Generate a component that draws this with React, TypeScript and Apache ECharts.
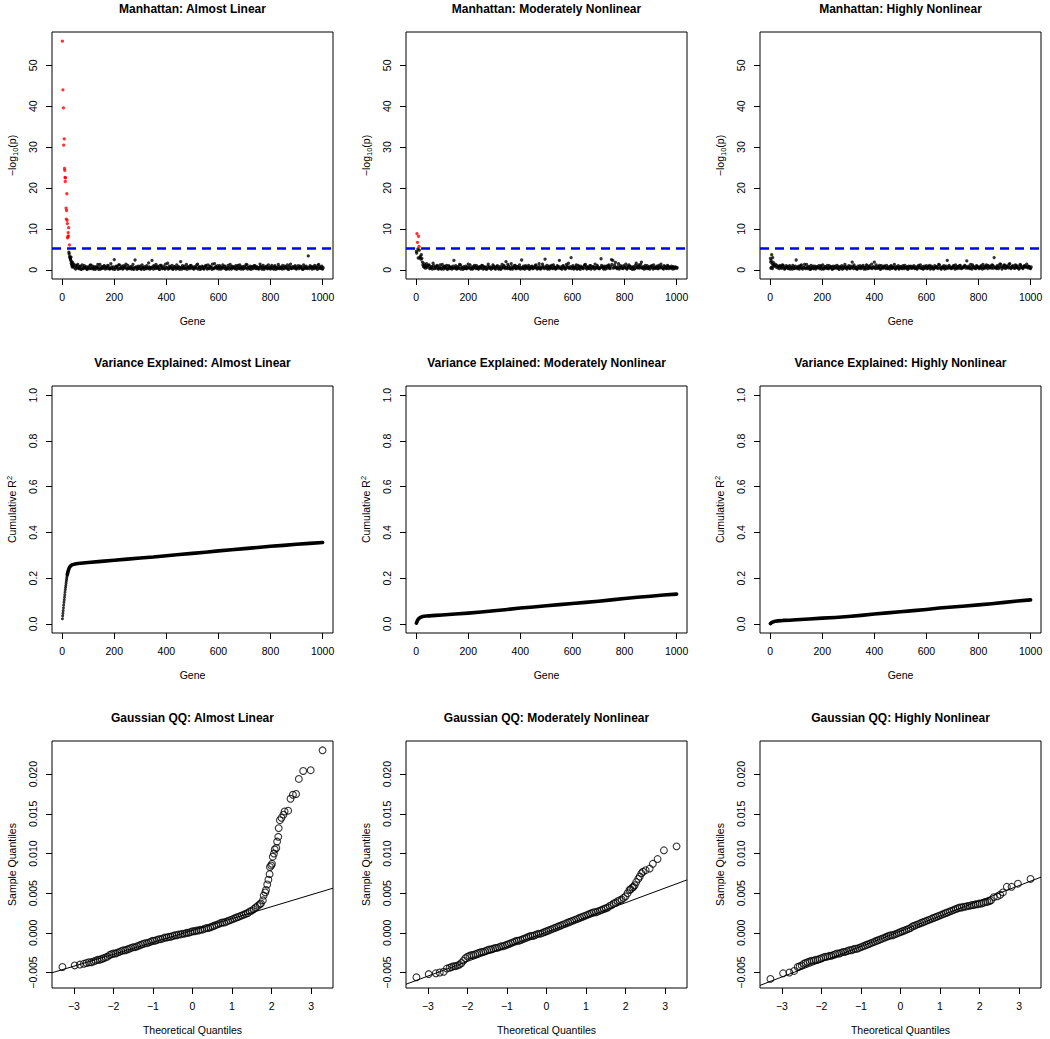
import React, { useEffect, useRef } from "react";
import * as echarts from "echarts";

const FONT = '"Liberation Sans", Arial, Helvetica, sans-serif';

const SCENARIOS = ["Almost Linear", "Moderately Nonlinear", "Highly Nonlinear"];
const GENE_TICKS = [0, 200, 400, 600, 800, 1000];
const LOGP_TICKS = [0, 10, 20, 30, 40, 50];
const R2_TICKS = [0, 0.2, 0.4, 0.6, 0.8, 1];
const QQ_X_TICKS = [-3, -2, -1, 0, 1, 2, 3];
const QQ_Y_TICKS = [-0.005, 0, 0.005, 0.01, 0.015, 0.02];

const GENE_RANGE = [-38.96, 1039.96];
const LOGP_RANGE = [-2.24, 58.14];
const R2_RANGE = [-0.04, 1.04];
const QQ_X_RANGE = [-3.554, 3.554];
const QQ_Y_RANGE = [-0.00695, 0.02418];

const THRESHOLD = 5.3;

// ---------- Manhattan: [gene, -log10(p)] for the first genes ----------
const man1Early = [
  [1, 55.9], [3, 44.0], [5, 39.6], [6, 30.5], [8, 32.0], [9, 24.8], [10, 24.3], [11, 22.6],
  [12, 21.6], [13, 22.5], [15, 15.1], [16, 12.4], [17, 14.5], [18, 18.6], [19, 12.1], [20, 11.3],
  [21, 7.8], [22, 8.1], [23, 9.1], [24, 8.3], [25, 10.3], [28, 6.1],
  [26, 4.3], [27, 3.9], [29, 3.3], [30, 3.0], [31, 2.9], [32, 2.6], [33, 2.3], [34, 3.1],
  [35, 1.6], [36, 2.0], [37, 1.3], [38, 1.0], [39, 0.7],
];
const man2Early = [
  [3, 8.85], [5, 6.7], [9, 8.2], [11, 5.7],
  [1, 4.5], [2, 4.1], [7, 5.1], [8, 2.9], [12, 4.8], [14, 3.0], [16, 3.3], [18, 2.6], [20, 3.7],
  [22, 2.8], [24, 1.9], [26, 1.2], [28, 0.8], [30, 1.5], [32, 0.6], [34, 1.0], [36, 0.4], [38, 0.9],
];
const man3Early = [
  [1, 2.8], [2, 1.9], [3, 0.4], [4, 2.3], [5, 0.6], [6, 3.7], [8, 1.5], [9, 0.3], [10, 3.0],
  [11, 0.9], [12, 1.8], [14, 1.2], [17, 0.9], [20, 1.4], [23, 0.7], [26, 1.1], [29, 0.5],
  [32, 0.8], [35, 0.3], [37, 1.0],
];

// ---------- Manhattan: null genes, two interleaved runs (40, 45, ... and 42, 47, ...) ----------
const NOISE_A_FIRST_GENE = 40;
const NOISE_B_FIRST_GENE = 42;
const NOISE_GENE_STEP = 5;
const man1NoiseA = [
  1.8, 1.4, 1.1, 0.6, 1.3, 0.3, 0.9, 0.2, 0.5, 1.0,
  0.4, 0.1, 0.7, 0.3, 1.2, 0.5, 0.2, 0.8, 0.4, 0.6,
  0.1, 1.3, 0.3, 0.5, 0.9, 0.2, 0.6, 1.1, 0.4, 0.3,
  0.7, 0.2, 2.5, 0.5, 0.8, 0.1, 1.2, 0.4, 0.9, 0.3,
  0.6, 1.4, 0.2, 0.5, 0.3, 0.8, 0.4, 0.1, 2.4, 0.7,
  0.3, 0.5, 0.9, 0.2, 0.6, 0.1, 0.4, 1.0, 0.3, 0.7,
  0.5, 2.3, 0.2, 0.8, 1.3, 0.4, 0.6, 0.1, 1.1, 0.3,
  0.9, 0.2, 0.5, 1.6, 0.3, 0.7, 0.4, 0.1, 0.8, 0.5,
  1.2, 0.3, 0.6, 2.0, 0.2, 0.5, 0.9, 0.4, 0.1, 0.7,
  0.3, 1.1, 0.5, 0.2, 0.8, 0.4, 1.4, 0.6, 0.1, 0.3,
  0.7, 0.2, 0.9, 0.5, 1.2, 0.3, 0.6, 0.1, 0.4, 1.5,
  0.8, 0.3, 0.5, 1.0, 0.2, 0.6, 0.4, 0.9, 0.1, 0.3,
  0.6, 1.3, 0.2, 0.5, 0.8, 0.4, 0.1, 1.1, 0.3, 0.7,
  0.5, 0.2, 0.9, 0.4, 1.2, 0.6, 0.3, 0.1, 0.8, 0.5,
  1.0, 0.3, 0.6, 0.2, 1.4, 0.4, 0.7, 0.1, 0.5, 0.9,
  0.3, 0.6, 0.2, 1.1, 0.4, 0.8, 0.1, 0.5, 1.3, 0.3,
  0.7, 0.2, 0.5, 0.9, 0.4, 1.2, 0.1, 0.6, 0.3, 0.8,
  0.4, 1.0, 0.2, 0.6, 0.3, 0.9, 0.5, 0.1, 0.7, 0.4,
  0.5, 3.4, 0.3, 0.8, 0.2, 0.6, 1.1, 0.4, 0.1, 1.3,
  0.5, 0.3, 0.2,
];
const man1NoiseB = [
  0.9, 0.5, 0.2, 1.0, 0.4, 0.7, 0.1, 1.2, 0.3, 0.6,
  0.8, 0.2, 0.5, 1.1, 0.3, 0.9, 0.4, 0.1, 0.7, 1.3,
  0.5, 0.2, 0.8, 0.4, 1.0, 0.6, 0.3, 0.9, 0.2, 1.5,
  0.4, 0.7, 0.1, 0.9, 0.5, 1.2, 0.3, 0.6, 0.2, 1.0,
  0.8, 0.3, 1.1, 0.4, 0.7, 0.2, 1.3, 0.5, 0.6, 0.1,
  0.9, 0.4, 0.2, 1.2, 0.5, 0.8, 0.3, 0.6, 1.7, 0.2,
  0.4, 0.7, 1.0, 0.3, 0.5, 0.9, 0.2, 1.1, 0.6, 0.4,
  0.3, 1.4, 0.6, 0.2, 0.9, 0.5, 1.1, 0.3, 0.7, 0.2,
  0.5, 0.8, 0.1, 0.6, 1.0, 0.4, 0.3, 1.3, 0.7, 0.5,
  1.0, 0.4, 0.7, 0.3, 0.6, 1.2, 0.2, 0.8, 0.5, 0.9,
  0.3, 0.6, 1.1, 0.2, 0.4, 0.9, 0.7, 1.4, 0.3, 0.5,
  0.6, 1.0, 0.2, 0.7, 0.4, 1.2, 0.8, 0.3, 0.5, 1.1,
  0.2, 0.5, 0.9, 0.6, 0.3, 1.0, 0.7, 0.4, 1.2, 0.2,
  0.8, 0.4, 0.6, 1.3, 0.2, 0.5, 0.9, 0.7, 0.3, 1.0,
  0.4, 0.8, 0.3, 0.6, 0.9, 0.2, 1.1, 0.5, 0.7, 0.3,
  1.2, 0.4, 0.7, 0.5, 0.2, 1.0, 0.6, 0.3, 0.8, 0.4,
  0.5, 1.1, 0.3, 0.7, 0.6, 0.2, 0.9, 1.4, 0.4, 0.6,
  0.8, 0.3, 0.6, 1.0, 0.5, 0.7, 0.2, 1.2, 0.4, 0.9,
  0.3, 0.6, 1.0, 0.5, 0.8, 0.3, 0.7, 0.6, 1.1, 0.4,
  0.7, 0.9, 0.5,
];
const man2NoiseA = [
  1.5, 0.9, 1.2, 0.4, 0.7, 1.6, 0.3, 0.8, 1.1, 0.2,
  0.6, 0.4, 1.3, 0.2, 0.9, 0.5, 0.1, 1.0, 0.3, 0.7,
  0.4, 2.3, 0.5, 0.2, 0.8, 0.3, 1.2, 0.6, 0.1, 0.4,
  0.9, 0.3, 1.4, 0.5, 0.2, 0.7, 0.4, 1.1, 0.3, 0.6,
  0.2, 0.8, 0.5, 1.0, 0.3, 0.6, 0.1, 0.9, 0.4, 0.7,
  0.3, 1.2, 0.5, 0.2, 0.8, 0.4, 0.6, 0.1, 1.3, 0.5,
  0.7, 2.0, 0.3, 0.9, 0.4, 1.5, 0.2, 0.6, 1.1, 0.3,
  0.8, 0.5, 0.2, 2.4, 0.6, 0.3, 1.0, 0.4, 0.7, 0.1,
  0.5, 0.9, 0.3, 0.6, 1.2, 0.2, 0.4, 0.8, 0.3, 1.4,
  0.6, 2.6, 0.4, 0.2, 0.9, 0.5, 1.1, 0.3, 0.7, 0.2,
  0.5, 0.8, 2.3, 0.4, 0.2, 1.0, 0.6, 0.3, 0.9, 1.6,
  0.4, 3.0, 0.7, 0.2, 0.5, 1.2, 0.3, 0.8, 0.1, 0.6,
  0.4, 0.9, 1.3, 0.2, 0.6, 0.3, 1.0, 0.5, 0.8, 0.2,
  0.6, 1.1, 0.4, 0.3, 2.7, 0.7, 0.2, 0.5, 0.9, 0.4,
  1.2, 0.3, 2.5, 2.3, 0.6, 1.8, 0.4, 0.8, 0.2, 1.0,
  0.5, 0.3, 0.7, 1.4, 0.2, 0.6, 0.9, 0.4, 0.1, 0.8,
  0.3, 1.6, 0.5, 1.2, 0.7, 1.9, 0.4, 0.2, 1.1, 0.6,
  0.3, 0.8, 0.5, 1.0, 0.2, 0.6, 0.4, 0.9, 0.3, 0.7,
  1.4, 0.5, 0.2, 0.8, 0.4, 1.1, 0.3, 0.6, 0.9, 0.2,
  0.5, 0.7, 0.4,
];
const man2NoiseB = [
  0.6, 1.1, 0.3, 0.8, 0.2, 1.0, 0.5, 0.4, 0.9, 0.3,
  1.2, 0.2, 0.6, 0.8, 0.4, 1.1, 0.3, 0.7, 0.5, 0.2,
  0.9, 0.4, 1.0, 0.3, 0.6, 1.3, 0.2, 0.5, 0.8, 0.4,
  0.3, 0.7, 0.5, 1.2, 0.4, 0.2, 0.9, 0.6, 1.0, 0.3,
  0.7, 0.4, 1.1, 0.2, 0.8, 0.5, 0.3, 1.4, 0.6, 0.2,
  0.5, 0.9, 0.3, 0.7, 1.0, 0.2, 0.8, 0.4, 0.6, 1.1,
  0.3, 0.6, 1.3, 0.4, 0.2, 0.8, 0.5, 1.0, 0.3, 0.7,
  0.4, 1.2, 0.6, 0.3, 0.9, 0.2, 0.7, 0.5, 1.1, 0.4,
  0.8, 0.3, 0.6, 1.0, 0.4, 0.7, 1.5, 0.2, 0.5, 0.9,
  0.3, 0.7, 1.1, 0.5, 0.2, 0.8, 0.4, 1.2, 0.6, 0.3,
  1.0, 0.4, 0.7, 0.3, 0.9, 0.5, 0.2, 1.3, 0.6, 0.4,
  0.8, 0.3, 1.0, 0.5, 0.7, 0.2, 1.1, 0.4, 0.9, 0.6,
  0.3, 1.2, 0.5, 0.8, 0.4, 1.0, 0.2, 0.7, 0.5, 1.4,
  0.4, 0.8, 0.3, 0.6, 1.1, 0.5, 0.9, 0.2, 0.7, 1.0,
  0.5, 0.8, 1.3, 0.4, 1.1, 0.6, 0.3, 1.5, 0.5, 0.8,
  0.4, 1.0, 0.6, 0.3, 0.9, 1.2, 0.4, 0.7, 0.5, 0.2,
  1.1, 0.6, 0.9, 0.4, 1.3, 0.5, 0.8, 0.6, 0.3, 1.0,
  0.5, 0.2, 0.9, 0.6, 1.2, 0.4, 0.7, 0.3, 1.1, 0.5,
  0.8, 0.4, 1.0, 0.6, 0.3, 0.9, 0.7, 0.4, 0.5, 0.8,
  0.3, 0.6, 0.5,
];
const man3NoiseA = [
  0.9, 0.4, 1.1, 0.2, 0.6, 0.8, 0.3, 1.0, 0.5, 0.2,
  0.7, 0.4, 2.4, 0.3, 0.9, 0.5, 1.2, 0.2, 0.6, 0.4,
  1.3, 0.3, 0.7, 0.1, 0.5, 0.9, 0.4, 0.2, 0.8, 0.6,
  0.3, 1.0, 0.5, 0.2, 0.7, 0.4, 1.1, 0.3, 0.6, 0.8,
  0.2, 0.5, 0.9, 0.4, 0.7, 0.1, 0.6, 1.0, 0.3, 0.5,
  0.8, 0.2, 0.6, 0.4, 0.9, 1.9, 0.3, 0.7, 0.5, 0.2,
  0.6, 1.0, 0.4, 0.8, 0.2, 0.5, 1.2, 0.3, 0.7, 0.4,
  1.4, 0.6, 1.9, 0.3, 0.8, 0.5, 1.1, 0.2, 0.6, 0.4,
  0.9, 0.3, 0.5, 0.7, 0.2, 1.0, 0.4, 0.6, 0.3, 0.8,
  0.5, 0.2, 0.7, 0.4, 1.0, 0.3, 0.6, 0.8, 0.2, 0.5,
  0.9, 0.4, 0.6, 0.3, 0.7, 0.2, 1.1, 0.5, 0.4, 0.8,
  0.3, 0.6, 1.0, 0.4, 0.7, 0.2, 0.9, 0.5, 0.3, 0.6,
  0.8, 0.4, 1.2, 0.3, 0.6, 0.5, 0.2, 0.9, 2.3, 0.4,
  0.7, 0.3, 0.5, 1.0, 0.2, 0.6, 0.8, 0.4, 1.1, 0.3,
  0.5, 0.7, 0.9, 2.2, 0.4, 0.6, 1.3, 0.2, 0.8, 0.5,
  0.3, 0.9, 0.6, 0.4, 1.0, 0.2, 0.7, 0.5, 1.2, 0.3,
  0.8, 0.6, 0.4, 1.1, 3.0, 0.5, 0.3, 0.9, 0.6, 1.4,
  0.2, 0.7, 1.2, 0.4, 0.9, 0.5, 1.5, 0.3, 0.6, 0.8,
  0.4, 1.0, 0.5, 0.2, 1.3, 0.6, 0.3, 0.9, 0.7, 1.4,
  0.5, 0.8, 0.3,
];
const man3NoiseB = [
  0.5, 1.2, 0.7, 0.3, 1.0, 0.4, 0.8, 0.2, 0.6, 1.1,
  0.3, 0.9, 0.5, 0.7, 0.2, 1.0, 0.4, 0.6, 1.3, 0.3,
  0.6, 0.8, 0.2, 1.1, 0.4, 0.3, 0.9, 0.6, 0.5, 1.0,
  0.7, 0.2, 1.2, 0.4, 0.8, 0.5, 0.3, 1.0, 0.6, 0.2,
  0.9, 0.4, 0.6, 1.1, 0.3, 0.8, 0.5, 0.2, 0.7, 1.3,
  0.4, 0.6, 1.0, 0.3, 0.5, 0.8, 1.2, 0.4, 0.2, 0.9,
  0.5, 0.3, 0.7, 1.1, 0.6, 0.2, 0.9, 0.4, 1.0, 0.6,
  0.3, 0.8, 0.5, 1.2, 0.4, 0.7, 0.2, 1.0, 0.5, 0.9,
  0.6, 1.1, 0.3, 0.5, 0.9, 0.4, 0.7, 1.3, 0.2, 0.6,
  1.0, 0.4, 0.8, 0.3, 0.6, 1.1, 0.5, 0.2, 0.9, 0.7,
  0.4, 0.7, 1.0, 0.5, 0.3, 0.8, 0.6, 1.2, 0.4, 0.2,
  0.9, 0.5, 0.3, 0.8, 1.1, 0.4, 0.6, 0.2, 1.0, 0.7,
  0.4, 1.3, 0.6, 0.2, 0.8, 1.0, 0.5, 0.3, 0.7, 1.1,
  0.6, 0.4, 0.9, 0.5, 1.2, 0.3, 0.7, 1.0, 0.4, 0.6,
  0.8, 1.1, 0.4, 0.6, 0.9, 0.3, 0.5, 1.2, 0.7, 0.4,
  1.0, 0.6, 0.3, 0.8, 0.5, 1.3, 0.4, 0.9, 0.6, 1.1,
  0.5, 0.9, 1.2, 0.4, 0.7, 0.6, 1.0, 0.3, 1.4, 0.8,
  0.6, 1.1, 0.4, 0.9, 0.7, 1.3, 0.5, 0.8, 1.0, 0.4,
  1.2, 0.6, 0.9, 0.4, 1.1, 0.7, 0.5, 1.0, 0.8, 0.6,
  0.9, 0.4, 0.7,
];

// ---------- Cumulative R^2: [gene, R^2] ----------
const r2Dots1 = [
  [1, 0.022], [2, 0.035], [3, 0.046], [4, 0.058], [5, 0.07], [6, 0.082], [7, 0.094], [8, 0.105],
  [9, 0.116], [10, 0.127], [11, 0.138], [12, 0.149], [13, 0.159], [14, 0.168], [15, 0.177],
  [16, 0.186], [17, 0.194], [18, 0.202], [19, 0.209], [20, 0.216],
];
const r2Curve1 = [
  [20, 0.216], [22, 0.226], [24, 0.234], [26, 0.241], [28, 0.246], [30, 0.25], [35, 0.256],
  [40, 0.259], [50, 0.262], [60, 0.264], [80, 0.266], [100, 0.268], [150, 0.273], [200, 0.278],
  [250, 0.283], [300, 0.288], [350, 0.292], [400, 0.298], [450, 0.303], [500, 0.308],
  [550, 0.313], [600, 0.319], [650, 0.324], [700, 0.329], [750, 0.334], [800, 0.339],
  [850, 0.343], [900, 0.348], [950, 0.352], [1000, 0.356],
];
const r2Curve2 = [
  [1, 0.003], [2, 0.006], [3, 0.009], [4, 0.012], [5, 0.015], [6, 0.017], [8, 0.02], [10, 0.023],
  [12, 0.025], [15, 0.027], [20, 0.03], [25, 0.032], [30, 0.033], [40, 0.034], [50, 0.035],
  [75, 0.037], [100, 0.039], [150, 0.043], [200, 0.047], [250, 0.052], [300, 0.057],
  [350, 0.063], [400, 0.069], [450, 0.074], [500, 0.079], [550, 0.084], [600, 0.089],
  [650, 0.094], [700, 0.099], [750, 0.105], [800, 0.111], [850, 0.116], [900, 0.121],
  [950, 0.126], [1000, 0.13],
];
const r2Curve3 = [
  [1, 0.001], [3, 0.003], [5, 0.005], [8, 0.007], [10, 0.008], [15, 0.01], [20, 0.011],
  [30, 0.013], [50, 0.015], [75, 0.016], [100, 0.018], [150, 0.021], [200, 0.025], [250, 0.028],
  [300, 0.032], [350, 0.037], [400, 0.043], [450, 0.048], [500, 0.053], [550, 0.058],
  [600, 0.063], [650, 0.069], [700, 0.074], [750, 0.078], [800, 0.083], [850, 0.088],
  [900, 0.094], [950, 0.1], [1000, 0.105],
];

// ---------- Gaussian QQ: [theoretical quantile, sample quantile] ----------
const qq1 = [
  [-3.29, -0.0043], [-2.98, -0.0041], [-2.85, -0.004], [-2.75, -0.0039], [-2.68, -0.0038],
  [-2.62, -0.0037], [-2.56, -0.0037], [-2.5, -0.0036], [-2.45, -0.0035], [-2.4, -0.0034],
  [-2.35, -0.0034], [-2.3, -0.0033], [-2.25, -0.0032], [-2.2, -0.0031],
  [-2.15, -0.003], [-2.1, -0.0028], [-2.05, -0.0027], [-2.0, -0.0026], [-1.95, -0.0026],
  [-1.9, -0.0025], [-1.85, -0.0024], [-1.8, -0.0023], [-1.75, -0.0022], [-1.7, -0.0022],
  [-1.65, -0.0021], [-1.6, -0.002], [-1.55, -0.0019], [-1.5, -0.0018], [-1.45, -0.0018],
  [-1.4, -0.0017], [-1.35, -0.0016], [-1.3, -0.0015], [-1.25, -0.0014], [-1.2, -0.0013],
  [-1.15, -0.0013], [-1.1, -0.0012], [-1.05, -0.0011], [-1.0, -0.001], [-0.95, -0.001],
  [-0.9, -0.0009], [-0.85, -0.0008], [-0.8, -0.0008], [-0.75, -0.0007], [-0.7, -0.0006],
  [-0.65, -0.0006], [-0.6, -0.0005], [-0.55, -0.0005], [-0.5, -0.0004], [-0.45, -0.0003],
  [-0.4, -0.0003], [-0.35, -0.0002], [-0.3, -0.0002], [-0.25, -0.0001], [-0.2, -0.0001],
  [-0.15, 0.0], [-0.1, 0.0], [-0.05, 0.0001], [0.0, 0.0002], [0.05, 0.0002], [0.1, 0.0003],
  [0.15, 0.0003], [0.2, 0.0004], [0.25, 0.0004], [0.3, 0.0005], [0.35, 0.0006], [0.4, 0.0006],
  [0.45, 0.0007], [0.5, 0.0008], [0.55, 0.0009], [0.6, 0.001], [0.65, 0.0011], [0.7, 0.0012],
  [0.75, 0.0013], [0.8, 0.0013], [0.85, 0.0014], [0.9, 0.0015], [0.95, 0.0016], [1.0, 0.0017],
  [1.05, 0.0018], [1.1, 0.0019], [1.15, 0.002], [1.2, 0.0021], [1.25, 0.0022], [1.3, 0.0023],
  [1.35, 0.0024], [1.4, 0.0025], [1.45, 0.0027], [1.5, 0.0028], [1.55, 0.003], [1.6, 0.0032],
  [1.65, 0.0034], [1.7, 0.0036],
  [1.73, 0.0037], [1.78, 0.0041], [1.8, 0.0047], [1.84, 0.0051], [1.86, 0.0054], [1.89, 0.0061],
  [1.92, 0.0067], [1.95, 0.0074], [1.96, 0.0083], [1.99, 0.0085], [2.01, 0.0087], [2.03, 0.0096],
  [2.06, 0.01], [2.08, 0.0105], [2.12, 0.0107], [2.14, 0.0115], [2.17, 0.0121], [2.18, 0.0132],
  [2.21, 0.0142], [2.25, 0.0145], [2.3, 0.0149], [2.33, 0.0153], [2.42, 0.0154], [2.48, 0.0169],
  [2.54, 0.0174], [2.62, 0.0175], [2.69, 0.0194], [2.8, 0.0204], [2.99, 0.0205], [3.29, 0.023],
];
const qq2 = [
  [-3.29, -0.0056], [-2.98, -0.0052], [-2.8, -0.0051], [-2.7, -0.005], [-2.6, -0.0049],
  [-2.52, -0.0045], [-2.45, -0.0044], [-2.4, -0.0043], [-2.35, -0.0042], [-2.3, -0.0042],
  [-2.25, -0.0041], [-2.2, -0.004], [-2.15, -0.0038], [-2.1, -0.0035], [-2.05, -0.0032],
  [-2.0, -0.003], [-1.95, -0.0029], [-1.9, -0.0028], [-1.85, -0.0028], [-1.8, -0.0027],
  [-1.75, -0.0026], [-1.7, -0.0025], [-1.65, -0.0024], [-1.6, -0.0024], [-1.55, -0.0023],
  [-1.5, -0.0022], [-1.45, -0.0021], [-1.4, -0.0021], [-1.35, -0.002], [-1.3, -0.0019],
  [-1.25, -0.0019], [-1.2, -0.0018], [-1.15, -0.0017], [-1.1, -0.0017], [-1.05, -0.0016],
  [-1.0, -0.0015], [-0.95, -0.0014], [-0.9, -0.0013], [-0.85, -0.0012], [-0.8, -0.0011],
  [-0.75, -0.001], [-0.7, -0.001], [-0.65, -0.0009], [-0.6, -0.0008], [-0.55, -0.0007],
  [-0.5, -0.0006], [-0.45, -0.0005], [-0.4, -0.0004], [-0.35, -0.0004], [-0.3, -0.0003],
  [-0.25, -0.0002], [-0.2, -0.0001], [-0.15, -0.0001], [-0.1, 0.0], [-0.05, 0.0001],
  [0.0, 0.0002], [0.05, 0.0003], [0.1, 0.0004], [0.15, 0.0005], [0.2, 0.0006], [0.25, 0.0007],
  [0.3, 0.0008], [0.35, 0.0009], [0.4, 0.001], [0.45, 0.0011], [0.5, 0.0012], [0.55, 0.0013],
  [0.6, 0.0014], [0.65, 0.0015], [0.7, 0.0016], [0.75, 0.0017], [0.8, 0.0018], [0.85, 0.0019],
  [0.9, 0.002], [0.95, 0.0021], [1.0, 0.0022], [1.05, 0.0023], [1.1, 0.0024], [1.15, 0.0025],
  [1.2, 0.0026], [1.25, 0.0026], [1.3, 0.0027], [1.35, 0.0028], [1.4, 0.0029], [1.45, 0.003],
  [1.5, 0.0031], [1.55, 0.0032], [1.6, 0.0034], [1.65, 0.0035], [1.7, 0.0037], [1.75, 0.0038],
  [1.8, 0.004], [1.85, 0.0041], [1.9, 0.0042], [1.95, 0.0044], [2.0, 0.0046], [2.05, 0.005],
  [2.1, 0.0054], [2.13, 0.0055], [2.17, 0.0057], [2.2, 0.0058], [2.23, 0.006], [2.27, 0.0064],
  [2.32, 0.0068], [2.36, 0.0071], [2.4, 0.0075], [2.44, 0.0077], [2.51, 0.0079], [2.61, 0.0081],
  [2.69, 0.0087], [2.81, 0.0093], [2.97, 0.0104], [3.29, 0.0109],
];
const qq3 = [
  [-3.29, -0.0058], [-2.97, -0.0051], [-2.81, -0.005], [-2.69, -0.0048], [-2.6, -0.0043],
  [-2.55, -0.0042], [-2.5, -0.0041], [-2.45, -0.0039], [-2.4, -0.0038], [-2.35, -0.0037],
  [-2.3, -0.0036], [-2.25, -0.0035], [-2.2, -0.0035], [-2.15, -0.0034], [-2.1, -0.0034],
  [-2.05, -0.0033], [-2.0, -0.0032], [-1.95, -0.0031], [-1.9, -0.003], [-1.85, -0.003],
  [-1.8, -0.0029], [-1.75, -0.0029], [-1.7, -0.0028], [-1.65, -0.0027], [-1.6, -0.0026],
  [-1.55, -0.0026], [-1.5, -0.0025], [-1.45, -0.0024], [-1.4, -0.0024], [-1.35, -0.0023],
  [-1.3, -0.0022], [-1.25, -0.0022], [-1.2, -0.0021], [-1.15, -0.002], [-1.1, -0.002],
  [-1.05, -0.0019], [-1.0, -0.0018], [-0.95, -0.0017], [-0.9, -0.0016], [-0.85, -0.0015],
  [-0.8, -0.0014], [-0.75, -0.0013], [-0.7, -0.0012], [-0.65, -0.0011], [-0.6, -0.001],
  [-0.55, -0.0009], [-0.5, -0.0008], [-0.45, -0.0007], [-0.4, -0.0006], [-0.35, -0.0005],
  [-0.3, -0.0004], [-0.25, -0.0003], [-0.2, -0.0003], [-0.15, -0.0002], [-0.1, -0.0001],
  [-0.05, 0.0], [0.0, 0.0001], [0.05, 0.0002], [0.1, 0.0003], [0.15, 0.0004], [0.2, 0.0005],
  [0.25, 0.0006], [0.3, 0.0008], [0.35, 0.0009], [0.4, 0.001], [0.45, 0.0011], [0.5, 0.0012],
  [0.55, 0.0013], [0.6, 0.0014], [0.65, 0.0015], [0.7, 0.0016], [0.75, 0.0017], [0.8, 0.0018],
  [0.85, 0.0019], [0.9, 0.002], [0.95, 0.0021], [1.0, 0.0022], [1.05, 0.0023], [1.1, 0.0024],
  [1.15, 0.0025], [1.2, 0.0026], [1.25, 0.0027], [1.3, 0.0028], [1.35, 0.0029], [1.4, 0.003],
  [1.45, 0.0031], [1.5, 0.0032], [1.55, 0.0032], [1.6, 0.0033], [1.65, 0.0033], [1.7, 0.0034],
  [1.75, 0.0034], [1.8, 0.0035], [1.85, 0.0035], [1.9, 0.0036], [1.95, 0.0036], [2.0, 0.0037],
  [2.05, 0.0037], [2.1, 0.0038], [2.15, 0.0039], [2.2, 0.0039], [2.25, 0.004],
  [2.29, 0.0041], [2.36, 0.0045], [2.45, 0.0046], [2.52, 0.0048], [2.59, 0.0051],
  [2.69, 0.0058], [2.81, 0.0058], [2.97, 0.0062], [3.29, 0.0068],
];
// qqline: [intercept, slope]
const QQ_LINES = [
  [0.0003, 0.0015],
  [0.0001, 0.00185],
  [0.0002, 0.00192],
];

const MAN_EARLY = [man1Early, man2Early, man3Early];
const MAN_NOISE_A = [man1NoiseA, man2NoiseA, man3NoiseA];
const MAN_NOISE_B = [man1NoiseB, man2NoiseB, man3NoiseB];
const QQ_POINTS = [qq1, qq2, qq3];

// ---------- layout ----------
const COL_LEFT = [52, 406, 760];
const ROW_TOP = [32, 386, 741];
const BOX_W = 281;
const BOX_H = 247;

const minus = (s: string) => s.replace("-", "\u2212");

function buildOption() {
  const grid: any[] = [];
  const xAxis: any[] = [];
  const yAxis: any[] = [];
  const series: any[] = [];
  const graphic: any[] = [];

  const mkAxis = (gi: number, range: number[], ticks: number[], fmt: (v: number) => string, isY: boolean) => ({
    type: "value",
    gridIndex: gi,
    min: range[0],
    max: range[1],
    axisLine: { show: false, onZero: false },
    splitLine: { show: false },
    axisTick: { show: true, inside: false, length: 6, customValues: ticks, lineStyle: { color: "#000", width: 1 } },
    axisLabel: {
      customValues: ticks,
      formatter: (v: number) => fmt(v),
      color: "#000",
      fontSize: 10.5,
      fontFamily: FONT,
      margin: isY ? 14 : 12,
      rotate: isY ? 90 : 0,
    },
  });

  const txt = (x: number, y: number, text: string, opts: any = {}) => ({
    type: "text",
    x,
    y,
    rotation: opts.rotation || 0,
    silent: true,
    style: {
      text,
      fill: "#000",
      fontSize: opts.fontSize || 10.5,
      fontWeight: opts.fontWeight || "normal",
      fontFamily: FONT,
      align: "center",
      verticalAlign: "middle",
      textAlign: "center",
      textVerticalAlign: "middle",
      rich: opts.rich,
    },
  });

  const richY = {
    a: { fontSize: 10.5, lineHeight: 14, fontFamily: FONT, fill: "#000", color: "#000" },
    sub: { fontSize: 7.5, lineHeight: 8, verticalAlign: "bottom", fontFamily: FONT, fill: "#000", color: "#000" },
    sup: { fontSize: 7.5, lineHeight: 8, verticalAlign: "top", fontFamily: FONT, fill: "#000", color: "#000" },
  };

  const titles = ["Manhattan: ", "Variance Explained: ", "Gaussian QQ: "];
  const xNames = ["Gene", "Gene", "Theoretical Quantiles"];
  const yNames = ["{a|\u2212log}{sub|10}{a|(p)}", "{a|Cumulative R}{sup|2}", "{a|Sample Quantiles}"];

  for (let r = 0; r < 3; r++) {
    for (let c = 0; c < 3; c++) {
      const gi = r * 3 + c;
      const left = COL_LEFT[c];
      const top = ROW_TOP[r];
      grid.push({
        left,
        top,
        width: BOX_W,
        height: BOX_H,
        show: true,
        borderColor: "#000",
        borderWidth: 1,
        backgroundColor: "transparent",
        containLabel: false,
      });

      if (r === 0) {
        xAxis.push(mkAxis(gi, GENE_RANGE, GENE_TICKS, (v) => String(v), false));
        yAxis.push(mkAxis(gi, LOGP_RANGE, LOGP_TICKS, (v) => String(v), true));
        const pts: number[][] = MAN_EARLY[c].map((p) => [p[0], p[1]]);
        MAN_NOISE_A[c].forEach((v, i) => pts.push([NOISE_A_FIRST_GENE + NOISE_GENE_STEP * i, v]));
        MAN_NOISE_B[c].forEach((v, i) => pts.push([NOISE_B_FIRST_GENE + NOISE_GENE_STEP * i, v]));
        const black = pts.filter((p) => p[1] <= THRESHOLD);
        const red = pts.filter((p) => p[1] > THRESHOLD);
        series.push({
          type: "scatter",
          xAxisIndex: gi,
          yAxisIndex: gi,
          symbol: "circle",
          symbolSize: 3.3,
          itemStyle: { color: "#000" },
          data: black,
          silent: true,
        });
        series.push({
          type: "scatter",
          xAxisIndex: gi,
          yAxisIndex: gi,
          symbol: "circle",
          symbolSize: 3.3,
          itemStyle: { color: "#FF0000" },
          data: red,
          silent: true,
        });
        series.push({
          type: "scatter",
          xAxisIndex: gi,
          yAxisIndex: gi,
          data: [],
          z: 10,
          silent: true,
          markLine: {
            silent: true,
            symbol: "none",
            label: { show: false },
            lineStyle: { color: "#0000FF", width: 2.6, type: [9, 6], cap: "butt" },
            data: [{ yAxis: THRESHOLD }],
          },
        });
      } else if (r === 1) {
        xAxis.push(mkAxis(gi, GENE_RANGE, GENE_TICKS, (v) => String(v), false));
        yAxis.push(mkAxis(gi, R2_RANGE, R2_TICKS, (v) => v.toFixed(1), true));
        const curve = [r2Curve1, r2Curve2, r2Curve3][c];
        if (c === 0) {
          series.push({
            type: "scatter",
            xAxisIndex: gi,
            yAxisIndex: gi,
            symbolSize: 3,
            itemStyle: { color: "#000" },
            data: r2Dots1,
            silent: true,
          });
        }
        series.push({
          type: "line",
          xAxisIndex: gi,
          yAxisIndex: gi,
          showSymbol: false,
          symbol: "none",
          lineStyle: { color: "#000", width: 3.6, cap: "round", join: "round" },
          data: curve,
          silent: true,
        });
      } else {
        xAxis.push(mkAxis(gi, QQ_X_RANGE, QQ_X_TICKS, (v) => minus(String(v)), false));
        yAxis.push(mkAxis(gi, QQ_Y_RANGE, QQ_Y_TICKS, (v) => minus(v.toFixed(3)), true));
        series.push({
          type: "scatter",
          xAxisIndex: gi,
          yAxisIndex: gi,
          symbol: "circle",
          symbolSize: 6.8,
          itemStyle: { color: "rgba(0,0,0,0)", borderColor: "#000", borderWidth: 1.1 },
          data: QQ_POINTS[c],
          silent: true,
        });
        const [a, b] = QQ_LINES[c];
        series.push({
          type: "line",
          xAxisIndex: gi,
          yAxisIndex: gi,
          showSymbol: false,
          symbol: "none",
          lineStyle: { color: "#000", width: 1 },
          data: [
            [QQ_X_RANGE[0], a + b * QQ_X_RANGE[0]],
            [QQ_X_RANGE[1], a + b * QQ_X_RANGE[1]],
          ],
          silent: true,
          z: 5,
        });
      }

      graphic.push(txt(left + BOX_W / 2, top - 23, titles[r] + SCENARIOS[c], { fontSize: 12, fontWeight: "bold" }));
      graphic.push(txt(left + BOX_W / 2, top + BOX_H + 42, xNames[r]));
      graphic.push(
        txt(left - 40, top + BOX_H / 2, yNames[r], { rotation: Math.PI / 2, rich: richY })
      );
    }
  }

  return {
    animation: false,
    backgroundColor: "#ffffff",
    textStyle: { fontFamily: FONT },
    grid,
    xAxis,
    yAxis,
    series,
    graphic: { elements: graphic },
  };
}

export default function App() {
  const ref = useRef<HTMLDivElement>(null);
  useEffect(() => {
    if (!ref.current) return;
    const chart = echarts.init(ref.current, null, { renderer: "svg" });
    chart.setOption(buildOption() as any);
    return () => chart.dispose();
  }, []);
  return (
    <div
      ref={ref}
      style={{ position: "absolute", left: 0, top: 0, width: 1050, height: 1039, background: "#fff" }}
    />
  );
}
